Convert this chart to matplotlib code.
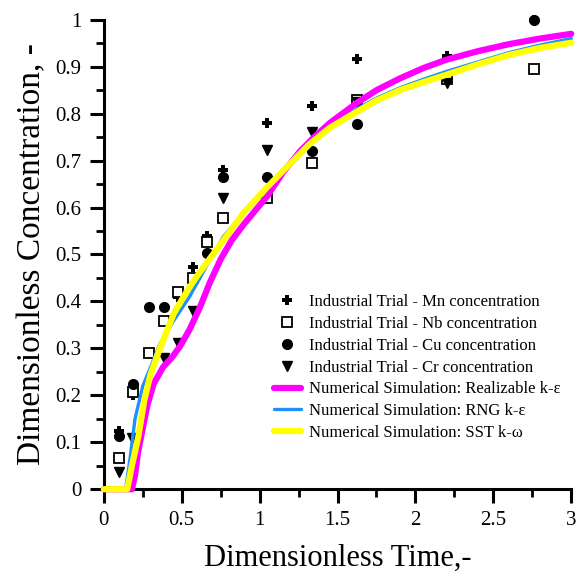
import matplotlib
matplotlib.use('Agg')
import matplotlib.pyplot as plt
from matplotlib import ticker

plt.rcParams['font.family'] = ['Liberation Serif', 'DejaVu Serif']

# industrial trial samples
mn_t = [0.1, 0.19, 0.475, 0.575, 0.66, 0.765, 1.05, 1.335, 1.625, 2.2, 2.76]
mn_c = [0.125, 0.2, 0.41, 0.473, 0.54, 0.68, 0.78, 0.817, 0.917, 0.923, 1.0]
nb_t = [0.1, 0.19, 0.29, 0.385, 0.475, 0.575, 0.66, 0.765, 1.05, 1.335, 1.625, 2.2, 2.76]
nb_c = [0.066, 0.207, 0.29, 0.358, 0.42, 0.45, 0.527, 0.578, 0.62, 0.695, 0.828, 0.874, 0.895]
cu_t = [0.1, 0.19, 0.29, 0.385, 0.66, 0.765, 1.05, 1.335, 1.625, 2.76]
cu_c = [0.113, 0.224, 0.388, 0.388, 0.503, 0.666, 0.666, 0.72, 0.778, 1.0]
cr_t = [0.1, 0.18, 0.385, 0.475, 0.575, 0.765, 1.05, 1.335, 1.625, 2.2]
cr_c = [0.036, 0.109, 0.279, 0.311, 0.38, 0.62, 0.723, 0.76, 0.825, 0.865]

# numerical simulations
rke_t = [0, 0.18, 0.2, 0.22, 0.25, 0.28, 0.32, 0.38, 0.44, 0.49, 0.55, 0.62, 0.68, 0.75, 0.82, 0.9,
         1.05, 1.15, 1.26, 1.35, 1.45, 1.625, 1.75, 1.9, 2.05, 2.2, 2.4, 2.6, 2.8, 3.0]
rke_c = [0, 0, 0.03, 0.08, 0.13, 0.18, 0.225, 0.26, 0.282, 0.305, 0.34, 0.39, 0.44, 0.49, 0.53, 0.565,
         0.625, 0.675, 0.72, 0.75, 0.78, 0.823, 0.85, 0.875, 0.897, 0.915, 0.933, 0.948, 0.96, 0.97]
rng_t = [0, 0.14, 0.17, 0.2, 0.25, 0.3, 0.36, 0.45, 0.55, 0.65, 0.765, 0.9, 1.05, 1.2, 1.32, 1.45,
         1.625, 1.75, 1.9, 2.05, 2.2, 2.4, 2.6, 2.8, 3.0]
rng_c = [0, 0, 0.07, 0.15, 0.22, 0.26, 0.31, 0.36, 0.41, 0.47, 0.537, 0.59, 0.64, 0.695, 0.735, 0.77,
         0.81, 0.833, 0.855, 0.873, 0.89, 0.91, 0.93, 0.946, 0.96]
sst_t = [0, 0.15, 0.18, 0.22, 0.26, 0.3, 0.36, 0.45, 0.53, 0.6, 0.7, 0.8, 0.9, 1.05, 1.2, 1.32, 1.45,
         1.625, 1.75, 1.9, 2.05, 2.2, 2.4, 2.6, 2.8, 3.0]
sst_c = [0, 0, 0.05, 0.11, 0.19, 0.245, 0.3, 0.375, 0.42, 0.455, 0.5, 0.545, 0.59, 0.644, 0.695, 0.735, 0.77,
         0.804, 0.828, 0.85, 0.867, 0.883, 0.905, 0.925, 0.94, 0.951]

fig = plt.figure(figsize=(5.77, 5.81), dpi=100)
ax = fig.add_axes([0.180, 0.158, 0.810, 0.808])

ms = 7
ax.plot(mn_t, mn_c, ls='none', marker='P', color='k', ms=ms, mew=0, zorder=2.6,
        clip_on=False, label='Industrial Trial - Mn concentration')
ax.plot(nb_t, nb_c, ls='none', marker='s', mfc='white', mec='k', mew=1.3, ms=ms, zorder=2.6,
        clip_on=False, label='Industrial Trial - Nb concentration')
ax.plot(cu_t, cu_c, ls='none', marker='o', color='k', ms=ms, zorder=2.6,
        clip_on=False, label='Industrial Trial - Cu concentration')
ax.plot(cr_t, cr_c, ls='none', marker='v', color='k', ms=ms, zorder=2.6,
        clip_on=False, label='Industrial Trial - Cr concentration')

ax.plot(rke_t, rke_c, color='#ff00ff', lw=4.5, solid_capstyle='round', clip_on=False, zorder=3,
        solid_joinstyle='round', label='Numerical Simulation: Realizable k-ε')
ax.plot(rng_t, rng_c, color='#1e8fff', lw=2.4, solid_capstyle='round', clip_on=False, zorder=3,
        solid_joinstyle='round', label='Numerical Simulation: RNG k-ε')
ax.plot(sst_t, sst_c, color='#ffff00', lw=4.5, solid_capstyle='round', clip_on=False, zorder=3,
        solid_joinstyle='round', label='Numerical Simulation: SST k-ω')

ax.set_xlim(0, 3)
ax.set_ylim(0, 1)
ax.spines[['right', 'top']].set_visible(False)
for s in ['left', 'bottom']:
	ax.spines[s].set_linewidth(2.2)

ax.xaxis.set_major_locator(ticker.MultipleLocator(0.5))
ax.xaxis.set_minor_locator(ticker.MultipleLocator(0.25))
ax.yaxis.set_major_locator(ticker.MultipleLocator(0.1))
ax.yaxis.set_minor_locator(ticker.MultipleLocator(0.05))
ax.xaxis.set_major_formatter(ticker.FuncFormatter(lambda v, p: '%g' % v))
ax.yaxis.set_major_formatter(ticker.FuncFormatter(lambda v, p: '%g' % v))
ax.tick_params(which='major', direction='out', length=10, width=2.2, labelsize=15, pad=6)
ax.tick_params(which='minor', direction='out', length=6, width=2.0)

ax.set_xlabel('Dimensionless Time,-', fontsize=22, labelpad=10)
ax.set_ylabel('Dimensionless Concentration, -', fontsize=24, labelpad=6)

ax.legend(loc='upper left', bbox_to_anchor=(0.35, 0.43), frameon=False,
          fontsize=12, handlelength=1.6, handletextpad=0.5, labelspacing=0.35,
          borderaxespad=0)

fig.savefig('out.png', dpi=100)
